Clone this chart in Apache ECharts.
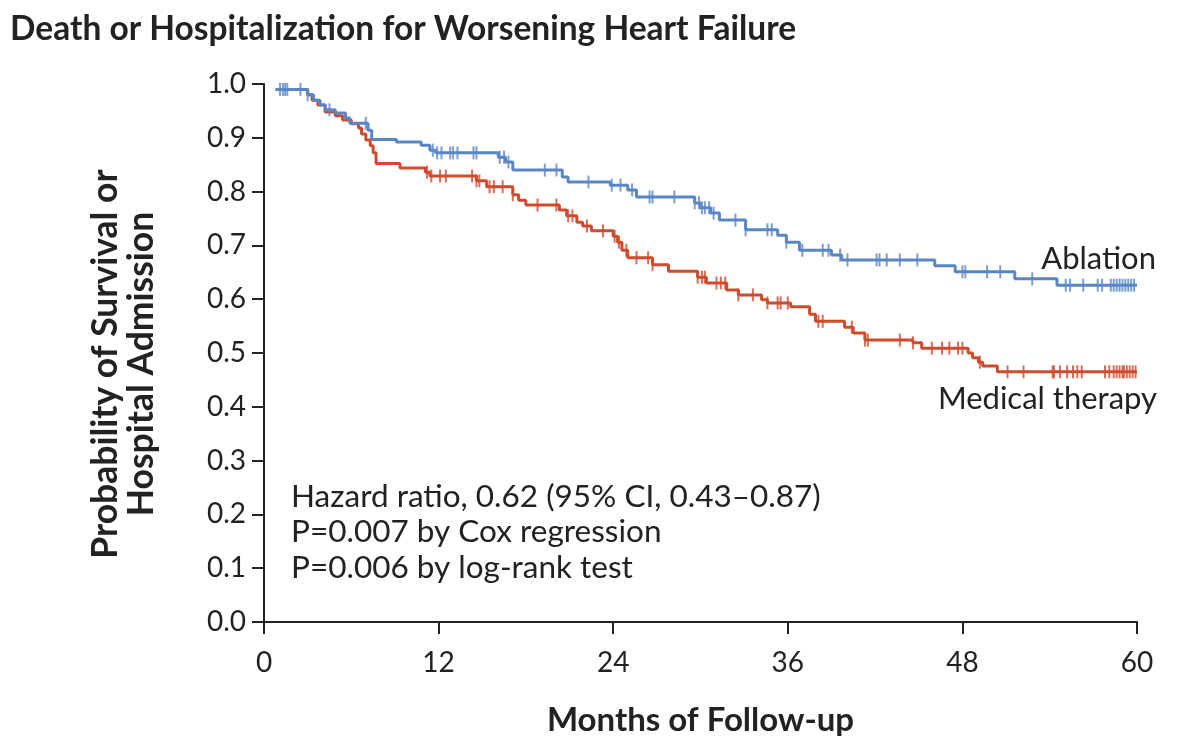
<!DOCTYPE html>
<html>
<head>
<meta charset="utf-8">
<script src="https://cdn.jsdelivr.net/npm/echarts@6/dist/echarts.min.js"></script>
<style>
html,body{margin:0;padding:0;background:#fff;}
#chart{width:1200px;height:749px;}
</style>
</head>
<body>
<div id="chart"></div>
<script>
// ---- Data ----
const title = 'Death or Hospitalization for Worsening Heart Failure';
const xTicks = [0, 12, 24, 36, 48, 60];
const yTicks = [0.0, 0.1, 0.2, 0.3, 0.4, 0.5, 0.6, 0.7, 0.8, 0.9, 1.0];

// Ablation: step times (months) and survival after each step
const ablationTimes = [0.8, 3.0, 3.4, 3.85, 4.2, 4.9, 5.6, 5.9, 7.15, 7.4, 9.1, 10.8, 11.4, 11.8, 16.1, 16.6, 17.1, 20.5, 20.9, 23.8, 25.0, 25.6, 29.6, 30.0, 30.7, 31.3, 33.1, 35.3, 35.9, 36.8, 39.0, 39.7, 46.1, 47.5, 51.6, 54.5, 60];
const ablationSurv  = [0.99, 0.98, 0.97, 0.961, 0.952, 0.946, 0.937, 0.927, 0.914, 0.897, 0.892, 0.886, 0.877, 0.872, 0.864, 0.855, 0.840, 0.827, 0.818, 0.812, 0.803, 0.790, 0.779, 0.770, 0.760, 0.747, 0.729, 0.719, 0.706, 0.691, 0.682, 0.673, 0.662, 0.651, 0.638, 0.626, 0.626];
const ablationCensor = [1.1, 1.3, 1.45, 1.6, 2.5, 3.0, 4.5, 7.0, 11.6, 11.9, 12.2, 12.8, 13.0, 13.3, 14.4, 14.6, 16.2, 16.5, 16.8, 19.3, 20.1, 22.3, 23.9, 24.5, 25.3, 26.5, 26.7, 28.2, 29.6, 29.9, 30.1, 30.3, 30.6, 30.9, 32.4, 33.1, 34.6, 34.9, 35.9, 37.0, 38.4, 38.8, 39.6, 40.1, 42.1, 42.3, 42.8, 43.7, 44.9, 48.0, 48.2, 49.7, 50.6, 52.8, 55.1, 55.4, 56.3, 57.3, 57.6, 58.2, 58.4, 58.6, 58.8, 59.0, 59.2, 59.4, 59.6, 59.8];

// Medical therapy
const medicalTimes = [0.8, 3.0, 3.3, 3.7, 4.2, 4.9, 5.4, 6.0, 6.5, 6.7, 7.0, 7.3, 7.5, 7.7, 9.35, 11.1, 11.4, 14.6, 15.3, 17.1, 17.5, 18.0, 20.3, 20.8, 21.5, 21.9, 22.5, 24.0, 24.3, 24.6, 25.0, 26.7, 27.8, 29.8, 30.4, 31.8, 32.6, 34.2, 34.6, 36.2, 37.5, 37.9, 39.9, 40.5, 41.3, 44.6, 45.2, 48.4, 48.7, 49.1, 49.4, 50.4, 60];
const medicalSurv  = [0.99, 0.98, 0.970, 0.961, 0.948, 0.941, 0.933, 0.926, 0.918, 0.907, 0.896, 0.885, 0.872, 0.852, 0.844, 0.836, 0.829, 0.820, 0.809, 0.794, 0.784, 0.775, 0.766, 0.755, 0.743, 0.736, 0.727, 0.717, 0.706, 0.691, 0.677, 0.664, 0.652, 0.641, 0.630, 0.617, 0.608, 0.599, 0.593, 0.586, 0.572, 0.559, 0.548, 0.537, 0.524, 0.519, 0.509, 0.500, 0.491, 0.483, 0.476, 0.465, 0.465];
const medicalCensor = [11.2, 11.5, 12.1, 12.5, 14.3, 14.6, 14.8, 15.5, 15.8, 16.4, 17.1, 18.8, 20.1, 20.9, 21.2, 22.2, 23.3, 24.1, 24.4, 24.9, 25.6, 26.4, 26.7, 29.8, 30.1, 30.3, 31.1, 31.4, 31.7, 32.6, 33.6, 34.6, 35.3, 35.5, 36.0, 38.1, 38.4, 40.4, 41.3, 41.5, 43.7, 44.6, 45.9, 46.6, 47.1, 47.7, 48.0, 49.2, 51.1, 52.2, 54.2, 54.3, 54.7, 55.2, 55.6, 55.9, 56.2, 57.8, 58.1, 58.4, 58.6, 58.8, 59.0, 59.1, 59.3, 59.5, 59.7, 59.9];

const seriesNames = ['Ablation', 'Medical therapy'];
const annotations = ['Hazard ratio, 0.62 (95% CI, 0.43\u20130.87)', 'P=0.007 by Cox regression', 'P=0.006 by log-rank test'];

// ---- Build ----
const BLUE = '#5a86c5';
const RED = '#cf4b2e';
const FONT = 'Lato';

function pairs(ts, ss){ return ts.map((t,i)=>[t, ss[i]]); }
function survAt(ts, ss, t){
  let v = ss[0];
  for (let i=0;i<ts.length;i++){ if (ts[i] <= t) v = ss[i]; else break; }
  return v;
}
function censorPts(cs, ts, ss){ return cs.map(t=>[t, survAt(ts, ss, t)]); }

const chart = echarts.init(document.getElementById('chart'), null, {renderer:'canvas'});
chart.setOption({
  animation:false,
  backgroundColor:'#fff',
  title:{text:title, left:10, top:12, padding:0, textStyle:{fontFamily:FONT, fontWeight:'bold', fontSize:33.5, color:'#222'}},
  grid:{left:264, right:63, top:84, bottom:127, containLabel:false},
  xAxis:{type:'value', min:0, max:60, interval:12,
    axisLine:{show:true, onZero:false, lineStyle:{color:'#222', width:2}},
    axisTick:{show:true, length:12, lineStyle:{color:'#222', width:2}},
    axisLabel:{fontFamily:FONT, fontSize:28, color:'#222', margin:27, formatter:v=>xTicks.includes(v)?String(v):''},
    splitLine:{show:false},
    name:'Months of Follow-up', nameLocation:'middle', nameGap:82,
    nameTextStyle:{fontFamily:FONT, fontWeight:'bold', fontSize:33, color:'#222'}
  },
  yAxis:{type:'value', min:0, max:1, interval:0.1,
    axisLine:{show:true, lineStyle:{color:'#222', width:2}},
    axisTick:{show:true, length:12, lineStyle:{color:'#222', width:2}},
    axisLabel:{fontFamily:FONT, fontSize:28, color:'#222', margin:18, formatter:v=>{const t=yTicks.find(y=>Math.abs(y-v)<1e-6); return t===undefined?'':t.toFixed(1);}},
    splitLine:{show:false}
  },
  series:[
    {name:seriesNames[0], type:'line', step:'end', data:pairs(ablationTimes, ablationSurv), showSymbol:false, lineStyle:{color:BLUE, width:3}, z:3},
    {name:seriesNames[1], type:'line', step:'end', data:pairs(medicalTimes, medicalSurv), showSymbol:false, lineStyle:{color:RED, width:3}, z:2},
    {type:'scatter', data:censorPts(ablationCensor, ablationTimes, ablationSurv), symbol:'rect', symbolSize:[2,13], itemStyle:{color:BLUE}, z:3},
    {type:'scatter', data:censorPts(medicalCensor, medicalTimes, medicalSurv), symbol:'rect', symbolSize:[2,13], itemStyle:{color:RED}, z:2}
  ],
  graphic:[
    {type:'text', x:106, y:364, rotation:Math.PI/2, style:{text:'Probability of Survival or', fontFamily:FONT, fontWeight:'bold', fontSize:35.5, fill:'#222', align:'center', verticalAlign:'middle'}},
    {type:'text', x:142, y:364, rotation:Math.PI/2, style:{text:'Hospital Admission', fontFamily:FONT, fontWeight:'bold', fontSize:35.5, fill:'#222', align:'center', verticalAlign:'middle'}},
    {type:'text', x:291, y:497, style:{text:annotations[0], fontFamily:FONT, fontSize:31.5, fill:'#222', align:'left', verticalAlign:'middle'}},
    {type:'text', x:291, y:532, style:{text:annotations[1], fontFamily:FONT, fontSize:31.5, fill:'#222', align:'left', verticalAlign:'middle'}},
    {type:'text', x:291, y:568, style:{text:annotations[2], fontFamily:FONT, fontSize:31.5, fill:'#222', align:'left', verticalAlign:'middle'}},
    {type:'text', x:1156, y:259, style:{text:seriesNames[0], fontFamily:FONT, fontSize:31, fill:'#222', align:'right', verticalAlign:'middle'}},
    {type:'text', x:1157, y:399, style:{text:seriesNames[1], fontFamily:FONT, fontSize:31, fill:'#222', align:'right', verticalAlign:'middle'}}
  ]
});
</script>
</body>
</html>
